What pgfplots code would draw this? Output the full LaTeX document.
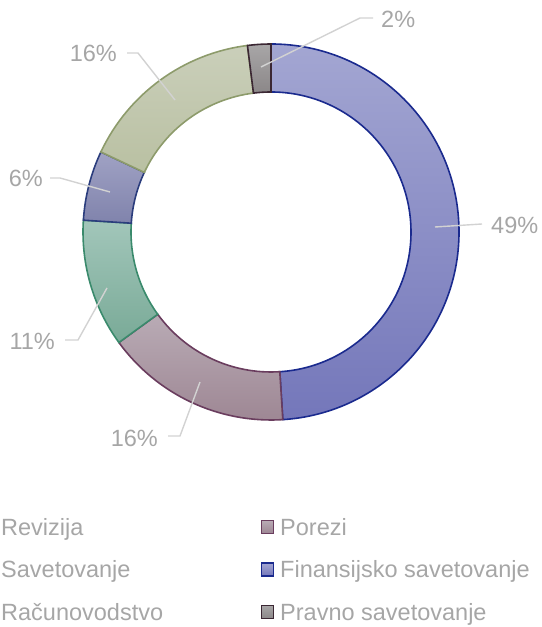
\documentclass[border=0pt]{standalone}
\usepackage{pgfplots}
\pgfplotsset{compat=1.18}
\usepackage{pgfplotstable}
\usepackage{fontspec}
\setmainfont{Liberation Sans}
\definecolor{txt}{HTML}{A6A6A6}
\definecolor{lead}{HTML}{D2D2D2}
\definecolor{c0top}{HTML}{A3A6D2}\definecolor{c0bot}{HTML}{7477BA}\definecolor{c0line}{HTML}{1A2A8E}
\definecolor{c1top}{HTML}{B9ABB5}\definecolor{c1bot}{HTML}{9D8693}\definecolor{c1line}{HTML}{6A3D5E}
\definecolor{c2top}{HTML}{A2C6BA}\definecolor{c2bot}{HTML}{79AA97}\definecolor{c2line}{HTML}{3A8A6C}
\definecolor{c3top}{HTML}{A0A2C4}\definecolor{c3bot}{HTML}{8083AC}\definecolor{c3line}{HTML}{2B3D7D}
\definecolor{c4top}{HTML}{CACFBA}\definecolor{c4bot}{HTML}{B9C0A2}\definecolor{c4line}{HTML}{8D9B6B}
\definecolor{c5top}{HTML}{A8A6A7}\definecolor{c5bot}{HTML}{8B8788}\definecolor{c5line}{HTML}{3B2733}
\newcommand\lbl{\fontsize{23.5bp}{28bp}\selectfont}
\pgfplotstableread{
idx name value cum
0 Finansijsko 49 0
1 Porezi 16 49
2 Racunovodstvo 11 65
3 Savetovanje 6 76
4 Revizija 16 82
5 Pravno 2 98
}\donut
\begin{document}
\begin{tikzpicture}
\begin{axis}[name=ax,x=1bp,y=1bp,xmin=0,xmax=542,ymin=0,ymax=627,hide axis,clip=false]
\pgfplotsinvokeforeach{0,...,5}{%
  \pgfplotstablegetelem{#1}{cum}\of\donut \let\cA\pgfplotsretval
  \pgfplotstablegetelem{#1}{value}\of\donut \let\vA\pgfplotsretval
  \pgfmathsetmacro\sa{90-3.6*\cA}%
  \pgfmathsetmacro\ea{90-3.6*(\cA+\vA)}%
  \pgfmathsetmacro\ox{271+188*cos(\sa)}%
  \pgfmathsetmacro\oy{395+188*sin(\sa)}%
  \pgfmathsetmacro\ix{271+140*cos(\ea)}%
  \pgfmathsetmacro\iy{395+140*sin(\ea)}%
  \edef\temp{\noexpand\draw[draw=c#1line,line width=1.6bp,top color=c#1top,bottom color=c#1bot,line join=miter]
    (axis cs:\ox,\oy) arc[start angle=\sa,end angle=\ea,radius=188bp] -- (axis cs:\ix,\iy) arc[start angle=\ea,end angle=\sa,radius=140bp] -- cycle;}%
  \temp
}
% leader lines
\draw[lead,line width=1.4bp] (axis cs:435,400) -- (axis cs:482,403);
\draw[lead,line width=1.4bp] (axis cs:261,560) -- (axis cs:360,609) -- (axis cs:373,609);
\draw[lead,line width=1.4bp] (axis cs:127,574) -- (axis cs:138,574) -- (axis cs:175,527);
\draw[lead,line width=1.4bp] (axis cs:50,449) -- (axis cs:60,449) -- (axis cs:110,435);
\draw[lead,line width=1.4bp] (axis cs:65,287) -- (axis cs:78,287) -- (axis cs:107,339);
\draw[lead,line width=1.4bp] (axis cs:168,191) -- (axis cs:180,191) -- (axis cs:200,245);
% labels
\node[anchor=base west,inner sep=0,text=txt,font=\lbl] at (axis cs:491,393.7) {49\%};
\node[anchor=base west,inner sep=0,text=txt,font=\lbl] at (axis cs:381,599.5) {2\%};
\node[anchor=base east,inner sep=0,text=txt,font=\lbl] at (axis cs:117,565.3) {16\%};
\node[anchor=base east,inner sep=0,text=txt,font=\lbl] at (axis cs:43,440.3) {6\%};
\node[anchor=base east,inner sep=0,text=txt,font=\lbl] at (axis cs:55,277.7) {11\%};
\node[anchor=base east,inner sep=0,text=txt,font=\lbl] at (axis cs:158,180.4) {16\%};
% legend
\node[anchor=base west,inner sep=0,text=txt,font=\lbl] at (axis cs:1,91.6) {Revizija};
\node[anchor=base west,inner sep=0,text=txt,font=\lbl] at (axis cs:1,49) {Savetovanje};
\node[anchor=base west,inner sep=0,text=txt,font=\lbl] at (axis cs:1,6.6) {Računovodstvo};
\draw[c1line,line width=1.8bp,top color=c1top,bottom color=c1bot] (axis cs:261.5,93.5) rectangle (axis cs:273.5,106.5);
\draw[c0line,line width=1.8bp,top color=c0top,bottom color=c0bot] (axis cs:261.5,51) rectangle (axis cs:273.5,64);
\draw[c5line,line width=1.8bp,top color=c5top,bottom color=c5bot] (axis cs:261.5,8.5) rectangle (axis cs:273.5,21.5);
\node[anchor=base west,inner sep=0,text=txt,font=\lbl] at (axis cs:280,91.6) {Porezi};
\node[anchor=base west,inner sep=0,text=txt,font=\lbl] at (axis cs:280,49) {Finansijsko savetovanje};
\node[anchor=base west,inner sep=0,text=txt,font=\lbl] at (axis cs:280,6.6) {Pravno savetovanje};
\end{axis}
\pgfresetboundingbox
\path[use as bounding box] (ax.south west) rectangle (ax.north east);
\end{tikzpicture}
\end{document}
